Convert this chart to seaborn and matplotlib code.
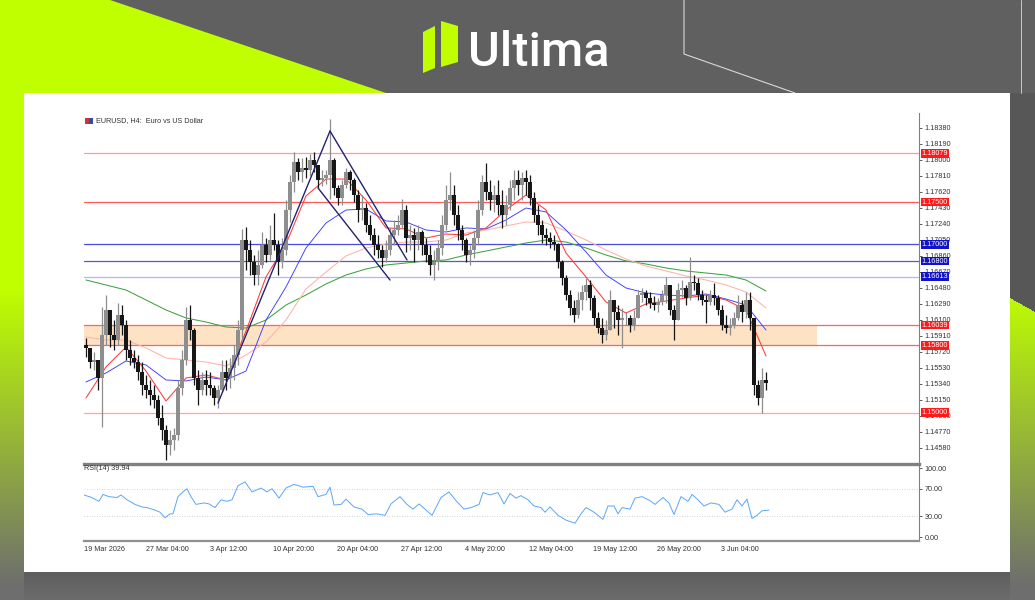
import numpy as np
import pandas as pd
import matplotlib
matplotlib.use("Agg")
import matplotlib.pyplot as plt
from matplotlib.patches import Polygon, Rectangle
from matplotlib.colors import to_rgb
import seaborn as sns

# ---------------- data (EURUSD) ----------------
first_open = 1.15803
closes = [
    1.15768, 1.15601, 1.15625, 1.15411, 1.15922, 1.16219, 1.15922, 1.15863, 1.16159, 1.16041,
    1.15744, 1.15649, 1.15601, 1.15483, 1.15328, 1.15269, 1.15209, 1.15150, 1.14936, 1.14794,
    1.14616, 1.14675, 1.14734, 1.15293, 1.15625, 1.16100, 1.15981, 1.15411, 1.15269, 1.15388,
    1.15328, 1.15293, 1.15174, 1.15269, 1.15483, 1.15411, 1.15530, 1.15684, 1.15981, 1.17050,
    1.16931, 1.16789, 1.16634, 1.16753, 1.16991, 1.16872, 1.17050, 1.16991, 1.16789, 1.16931,
    1.17406, 1.17739, 1.17976, 1.17858, 1.17905, 1.17881, 1.18000, 1.17941, 1.17763, 1.17786,
    1.17822, 1.18000, 1.17668, 1.17549, 1.17703, 1.17858, 1.17763, 1.17584, 1.17406, 1.17430,
    1.17228, 1.17109, 1.16991, 1.16931, 1.16836, 1.16931, 1.17109, 1.17169, 1.17228, 1.17406,
    1.17074, 1.17109, 1.17050, 1.17145, 1.16991, 1.16872, 1.16753, 1.16789, 1.16955, 1.17228,
    1.17525, 1.17584, 1.17347, 1.17169, 1.17050, 1.16872, 1.16931, 1.17074, 1.17406, 1.17739,
    1.17620, 1.17525, 1.17584, 1.17466, 1.17347, 1.17466, 1.17668, 1.17763, 1.17703, 1.17786,
    1.17739, 1.17549, 1.17347, 1.17228, 1.17109, 1.17074, 1.17026, 1.17003, 1.16789, 1.16599,
    1.16397, 1.16243, 1.16159, 1.16338, 1.16433, 1.16516, 1.16361, 1.16124, 1.16005, 1.15922,
    1.15981, 1.16338, 1.16195, 1.16100, 1.16124, 1.16124, 1.16041, 1.16124, 1.16397, 1.16421,
    1.16361, 1.16302, 1.16278, 1.16314, 1.16397, 1.16516, 1.16219, 1.16100, 1.16456, 1.16480,
    1.16361, 1.16551, 1.16539, 1.16397, 1.16338, 1.16314, 1.16397, 1.16361, 1.16219, 1.16041,
    1.16005, 1.16041, 1.16124, 1.16278, 1.16195, 1.16338, 1.16124, 1.15328, 1.15174, 1.15388, 1.15352,
]
highs = [
    1.15886, 1.15744, 1.15720, 1.15625, 1.16254, 1.16397, 1.16159, 1.16100, 1.16302, 1.16278,
    1.16100, 1.15863, 1.15744, 1.15684, 1.15601, 1.15447, 1.15388, 1.15328, 1.15209, 1.15091,
    1.14853, 1.14794, 1.14818, 1.15388, 1.15744, 1.16254, 1.16278, 1.16005, 1.15506, 1.15483,
    1.15506, 1.15483, 1.15328, 1.15328, 1.15625, 1.15625, 1.15649, 1.15803, 1.16100, 1.17181,
    1.17204, 1.17050, 1.16872, 1.16931, 1.17145, 1.17074, 1.17228, 1.17371, 1.17050, 1.17074,
    1.17525, 1.17822, 1.18095, 1.18024, 1.18024, 1.18036, 1.18071, 1.18095, 1.17941, 1.17881,
    1.17881, 1.18487, 1.18024, 1.17703, 1.17763, 1.17905, 1.17881, 1.17786, 1.17644, 1.17584,
    1.17489, 1.17347, 1.17193, 1.17109, 1.16991, 1.17050, 1.17193, 1.17288, 1.17347, 1.17537,
    1.17466, 1.17228, 1.17193, 1.17228, 1.17169, 1.17074, 1.16991, 1.16931, 1.17050, 1.17347,
    1.17703, 1.17858, 1.17703, 1.17466, 1.17228, 1.17074, 1.16991, 1.17169, 1.17525, 1.17822,
    1.17964, 1.17763, 1.17703, 1.17763, 1.17644, 1.17584, 1.17763, 1.17881, 1.17881, 1.17858,
    1.17881, 1.17822, 1.17620, 1.17466, 1.17288, 1.17193, 1.17145, 1.17109, 1.17014, 1.16813,
    1.16634, 1.16456, 1.16338, 1.16433, 1.16516, 1.16599, 1.16575, 1.16397, 1.16195, 1.16124,
    1.16100, 1.16456, 1.16338, 1.16278, 1.16243, 1.16195, 1.16159, 1.16219, 1.16456, 1.16480,
    1.16456, 1.16433, 1.16385, 1.16361, 1.16456, 1.16611, 1.16516, 1.16278, 1.16539, 1.16575,
    1.16516, 1.16848, 1.16634, 1.16599, 1.16456, 1.16397, 1.16456, 1.16539, 1.16397, 1.16278,
    1.16159, 1.16124, 1.16195, 1.16397, 1.16338, 1.16433, 1.16433, 1.16124, 1.15388, 1.15530, 1.15483,
]
lows = [
    1.15661, 1.15530, 1.15506, 1.15269, 1.14829, 1.15803, 1.15779, 1.15744, 1.15803, 1.15922,
    1.15625, 1.15566, 1.15530, 1.15388, 1.15209, 1.15174, 1.15091, 1.15055, 1.14853, 1.14675,
    1.14438, 1.14497, 1.14556, 1.14675, 1.15209, 1.15566, 1.15863, 1.15328, 1.15091, 1.15209,
    1.15209, 1.15209, 1.15091, 1.15055, 1.15245, 1.15269, 1.15293, 1.15388, 1.15566, 1.15863,
    1.16694, 1.16634, 1.16516, 1.16516, 1.16718, 1.16789, 1.16813, 1.16931, 1.16634, 1.16718,
    1.16872, 1.17264, 1.17620, 1.17763, 1.17739, 1.17786, 1.17810, 1.17858, 1.17668, 1.17691,
    1.17715, 1.17537, 1.17584, 1.17466, 1.17466, 1.17668, 1.17644, 1.17501, 1.17264, 1.17288,
    1.17145, 1.17050, 1.16872, 1.16836, 1.16729, 1.16789, 1.16872, 1.16991, 1.17109, 1.17193,
    1.16908, 1.16931, 1.16789, 1.16931, 1.16872, 1.16789, 1.16634, 1.16575, 1.16694, 1.16872,
    1.17169, 1.17406, 1.17228, 1.17050, 1.16931, 1.16789, 1.16753, 1.16836, 1.16991, 1.17347,
    1.17525, 1.17406, 1.17383, 1.17347, 1.17193, 1.17228, 1.17406, 1.17525, 1.17584, 1.17525,
    1.17584, 1.17466, 1.17264, 1.17109, 1.17014, 1.16991, 1.16955, 1.16931, 1.16718, 1.16516,
    1.16338, 1.16159, 1.16076, 1.16124, 1.16219, 1.16338, 1.16219, 1.16041, 1.15946, 1.15827,
    1.15863, 1.15981, 1.16005, 1.15922, 1.15768, 1.16041, 1.15958, 1.15981, 1.16159, 1.16314,
    1.16278, 1.16243, 1.16219, 1.16195, 1.16278, 1.16302, 1.16159, 1.15863, 1.16124, 1.16373,
    1.16278, 1.16338, 1.16456, 1.16338, 1.16278, 1.16064, 1.16278, 1.16278, 1.16159, 1.15981,
    1.15946, 1.15922, 1.16005, 1.16100, 1.16076, 1.16124, 1.15981, 1.15209, 1.15091, 1.14996, 1.15269,
]

# moving averages, sampled every 5 candles
ma_bar = list(range(0, 171, 5))
ma_red = [1.15174, 1.15542, 1.15779, 1.15494, 1.15138, 1.15411, 1.15447, 1.15388, 1.15969, 1.16611,
          1.17003, 1.17573, 1.17774, 1.17774, 1.17525, 1.17193, 1.17181, 1.17074, 1.17121, 1.17109,
          1.17193, 1.17406, 1.17584, 1.17406, 1.16896, 1.16611, 1.16314, 1.16183, 1.16290, 1.16326,
          1.16361, 1.16397, 1.16338, 1.16219, 1.15673]
ma_blue = [1.15364, 1.15471, 1.15613, 1.15566, 1.15388, 1.15376, 1.15423, 1.15388, 1.15494, 1.16100,
           1.16492, 1.16955, 1.17252, 1.17406, 1.17418, 1.17276, 1.17264, 1.17169, 1.17145, 1.17193,
           1.17181, 1.17288, 1.17430, 1.17383, 1.17169, 1.16908, 1.16634, 1.16480, 1.16421, 1.16397,
           1.16385, 1.16409, 1.16349, 1.16278, 1.15981]
ma_pink = [1.15898, 1.15863, 1.15863, 1.15768, 1.15649, 1.15625, 1.15601, 1.15554, 1.15684, 1.15839,
           1.16100, 1.16468, 1.16670, 1.16860, 1.16955, 1.17003, 1.17026, 1.17026, 1.17050, 1.17133,
           1.17169, 1.17216, 1.17264, 1.17252, 1.17157, 1.17050, 1.16931, 1.16824, 1.16741, 1.16682,
           1.16623, 1.16575, 1.16516, 1.16433, 1.16243]
ma_green = [1.16575, 1.16516, 1.16456, 1.16338, 1.16219, 1.16124, 1.16076, 1.16017, 1.16005, 1.16100,
            1.16278, 1.16397, 1.16528, 1.16634, 1.16706, 1.16753, 1.16777, 1.16801, 1.16813, 1.16872,
            1.16919, 1.16967, 1.17014, 1.17050, 1.17026, 1.16955, 1.16872, 1.16801, 1.16765, 1.16718,
            1.16682, 1.16658, 1.16634, 1.16575, 1.16444]

# RSI(14)
rsi_bar = [0, 1.75, 3.75, 4.75, 6.25, 8.25, 9.25, 10.75, 12.75, 14.5,
           15.75, 17.75, 19, 20.25, 21.5, 22.25, 23.5, 24.75, 25.75, 26.75,
           28, 30, 31.25, 32.75, 34.25, 35.75, 37, 38.5, 40.25, 42,
           44.25, 45.75, 47, 48.75, 50.5, 52.5, 54.75, 57.25, 58.5, 60.5,
           61.5, 62.5, 64.25, 65.5, 67.5, 69.5, 71, 73.25, 75.25, 76.75,
           79, 80.75, 82.25, 83.75, 85.25, 87, 89.25, 91.25, 93, 95,
           96.75, 98.75, 99.75, 101.5, 103.5, 105, 106.5, 108, 109.25, 111,
           112.5, 114.25, 115.25, 116.5, 118.5, 120.5, 122.75, 124.25, 125.5, 127.5,
           129.75, 131, 132.5, 133.5, 134.5, 136.5, 137.75, 139.5, 141.5, 142.75,
           144.75, 146.25, 147.5, 149.25, 151, 152, 153.5, 155, 156.75, 158.75,
           160.25, 162, 163.25, 164.5, 165.75, 167, 168.25, 169.5, 171.25]
rsi_vals = [61, 57.7, 51.8, 61.8, 58.6, 57.3, 61, 54, 47.3, 43.6,
            42.7, 39, 36, 28, 33.6, 33.6, 58.6, 65.5, 70, 58.6,
            47.3, 49.5, 48, 42.7, 54, 51.8, 54, 74.5, 80, 65.5,
            71, 65.5, 70, 56.4, 71, 76.4, 72.3, 73.6, 58.6, 61.8,
            72.3, 46.4, 47.3, 55, 43.6, 40.5, 32.7, 33.6, 31.4, 48,
            58.6, 47.3, 40.5, 48, 40.5, 31.4, 57.3, 65.5, 52.7, 40.5,
            42.7, 47.3, 64.5, 61, 64.5, 48, 63.2, 56.4, 60, 54,
            45, 42.7, 36, 43.6, 31.4, 24.5, 20, 33.6, 42.7, 36,
            25.5, 45, 45, 33.6, 42.7, 40.5, 56.4, 58.6, 52.7, 47.3,
            57.3, 49.5, 32.7, 58.6, 51.8, 61.8, 54, 45, 49.5, 47.3,
            36, 40.5, 54, 45, 55, 26.8, 31.4, 38, 39]

# horizontal levels and their colours
levels = [1.18079, 1.17500, 1.17000, 1.16800, 1.16613, 1.16039, 1.15800, 1.15000]
level_line_colors = ['#ff9a9a', '#ff5a5a', '#4a4ae0', '#5a5ac4', '#b4b8f0', '#ff6262', '#ff6262', '#ffa4a4']
level_box_colors = ['#ff1a1a', '#ff1a1a', '#1212c8', '#1212c8', '#1212c8', '#ff1a1a', '#ff1a1a', '#ff1a1a']

# supply/demand zone
zone_start, zone_end, zone_lo, zone_hi = 0, 183.25, 1.15800, 1.16039

# trend lines (bar, price) pairs
trend_bars = [(33.5, 61.5), (61.5, 80.75), (58.5, 76.5)]
trend_prices = [(1.15114, 1.18344), (1.18344, 1.16813), (1.17668, 1.16575)]

price_ticks = [1.18380, 1.18190, 1.18000, 1.17810, 1.17620, 1.17430, 1.17240, 1.17050,
               1.16860, 1.16670, 1.16480, 1.16290, 1.16100, 1.15910, 1.15720, 1.15530,
               1.15340, 1.15150, 1.14960, 1.14770, 1.14580]
rsi_ticks = [0, 30, 70, 100]
date_bars = [0, 15.5, 31.5, 47.25, 63.25, 79.25, 95.25, 111.25, 127.25, 143.25, 159.25]
date_labels = ['19 Mar 2026', '27 Mar 04:00', '3 Apr 12:00', '10 Apr 20:00', '20 Apr 04:00',
               '27 Apr 12:00', '4 May 20:00', '12 May 04:00', '19 May 12:00', '26 May 20:00',
               '3 Jun 04:00']

# ---------------- styling ----------------
sns.set_style("white")
plt.rcParams['font.family'] = ['Liberation Sans', 'DejaVu Sans']

W, H = 1035, 600
fx = lambda x: x / W
fy = lambda y: 1 - y / H

LIME = '#bfff00'
fig = plt.figure(figsize=(10.35, 6.0), dpi=100)

# ---------------- branded frame ----------------
bg = fig.add_axes([0, 0, 1, 1])
bg.set_xlim(0, W)
bg.set_ylim(H, 0)
bg.axis('off')
bg.add_patch(Rectangle((0, 0), W, H, fc='#606060', ec='none', zorder=0))

lime_rgb = np.array(to_rgb(LIME))
grey_rgb = np.array(to_rgb('#6e6e6e'))
ys = np.arange(93, 600) + 0.5
t = np.clip((ys - 290) / (585 - 290), 0, 1)[:, None]
col = lime_rgb * (1 - t) + grey_rgb * t
left_img = np.repeat(col[:, None, :], 24, axis=1)
bg.imshow(left_img, extent=(0, 24, 600, 93), aspect='auto', interpolation='bilinear', zorder=1)

xs = np.arange(1010, 1035) + 0.5
right_img = np.repeat(col[:, None, :], len(xs), axis=1).copy()
boundary = 298 + (xs - 1010) * 0.56
dark = np.array(to_rgb('#575757'))
mask = ys[:, None] < boundary[None, :]
right_img[mask] = dark
bg.imshow(right_img, extent=(1010, 1035, 600, 93), aspect='auto', interpolation='nearest', zorder=1)

bot_t = np.linspace(0, 1, 28)[:, None]
bot_col = np.array(to_rgb('#5e5e5e')) * (1 - bot_t) + np.array(to_rgb('#6c6c6c')) * bot_t
bg.imshow(np.repeat(bot_col[:, None, :], 10, axis=1), extent=(24, 1010, 600, 572),
          aspect='auto', zorder=1)

bg.add_patch(Polygon([(0, 0), (110, 0), (386, 93), (0, 93)], closed=True, fc=LIME, ec='none', zorder=2))
bg.plot([684, 684, 795], [0, 54, 93], color='#d8d8d8', lw=0.8, zorder=2)
bg.plot([1021, 1021], [0, 93], color='#c8c8c8', lw=0.7, zorder=2)
bg.add_patch(Rectangle((24, 93), 986, 479, fc='white', ec='none', zorder=3))

# logo
bg.add_patch(Polygon([(423, 32), (435, 26), (435, 68), (423, 73)], closed=True, fc=LIME, ec='none', zorder=3))
bg.add_patch(Polygon([(441, 21), (458, 26), (458, 62), (441, 67)], closed=True, fc=LIME, ec='none', zorder=3))
fig.text(fx(468), fy(65.5), 'Ultima', fontsize=35, color='white', family=['Roboto', 'DejaVu Sans'],
         fontweight='medium', ha='left', va='baseline')

# ---------------- price chart ----------------
ax = fig.add_axes([fx(84), fy(464), (919 - 84) / W, (464 - 113) / H])
ax.set_facecolor('none')
x_max = (919 - 84) / 4
ax.set_xlim(0, x_max)
ax.set_ylim(1.14390, 1.18558)

df = pd.DataFrame({'close': closes, 'high': highs, 'low': lows})
df['open'] = [first_open] + closes[:-1]
df['bar'] = np.arange(len(df)) + 0.5
df['high'] = df[['high', 'open', 'close']].max(axis=1)
df['low'] = df[['low', 'open', 'close']].min(axis=1)
up = df['close'] >= df['open']
ccol = np.where(up, '#8e8e8e', '#161616')

ax.fill_between([zone_start, zone_end], zone_lo, zone_hi, color='#fde2c4', lw=0, zorder=1)
for lv, lc in zip(levels, level_line_colors):
    ax.axhline(lv, color=lc, lw=0.9, zorder=2)

ma_x = np.array(ma_bar) + 0.5
for vals, c, lw in [(ma_green, '#3fa33f', 0.75), (ma_pink, '#ffb2a8', 0.75),
                    (ma_blue, '#3a3aff', 0.65), (ma_red, '#ff3a3a', 0.75)]:
    sns.lineplot(x=ma_x, y=vals, ax=ax, color=c, linewidth=lw, zorder=3)

ax.vlines(df['bar'], df['low'], df['high'], colors=ccol, linewidth=0.9, zorder=4)
body = (df['close'] - df['open']).abs().clip(lower=0.00005)
ax.bar(df['bar'], body, bottom=df[['open', 'close']].min(axis=1), width=0.78,
       color=ccol, linewidth=0, zorder=5)

for bx, py in zip(trend_bars, trend_prices):
    ax.plot(bx, py, color='#23236f', lw=1.0, zorder=6)

for lv, bc in zip(levels, level_box_colors):
    ax.text(1.003, lv, f"{lv:.5f}", transform=ax.get_yaxis_transform(), ha='left', va='center',
            fontsize=5.2, color='white', clip_on=False, zorder=10,
            bbox=dict(boxstyle='square,pad=0.12', fc=bc, ec='none'))

ax.yaxis.tick_right()
ax.set_yticks(price_ticks)
ax.set_yticklabels([f"{p:.5f}" for p in price_ticks])
ax.tick_params(axis='y', labelsize=5.2, length=2.5, width=0.6, pad=1.5, colors='#444444',
               labelcolor='#333333')
ax.set_xticks([])
for s in ['top', 'left']:
    ax.spines[s].set_visible(False)
ax.spines['right'].set_color('#808080')
ax.spines['right'].set_linewidth(0.8)
ax.spines['bottom'].set_color('#808080')
ax.spines['bottom'].set_linewidth(2.4)
ax.set_xlabel('')
ax.set_ylabel('')

fig.add_artist(Rectangle((fx(85), fy(124)), 4 / W, 6 / H, transform=fig.transFigure,
                         fc='#c83838', ec='none'))
fig.add_artist(Rectangle((fx(89), fy(124)), 4 / W, 6 / H, transform=fig.transFigure,
                         fc='#3050a8', ec='none'))
fig.text(fx(96), fy(120.5), 'EURUSD, H4:  Euro vs US Dollar', fontsize=5.2, color='#333333',
         ha='left', va='center')

# ---------------- RSI panel ----------------
ar = fig.add_axes([fx(84), fy(541), (919 - 84) / W, (541 - 465) / H])
ar.set_facecolor('none')
ar.set_xlim(0, x_max)
ar.set_ylim(-5.8, 104.5)
for lv in [70, 30]:
    ar.axhline(lv, color='#c4c4c4', lw=0.6, ls=(0, (1, 2)), zorder=1)
sns.lineplot(x=rsi_bar, y=rsi_vals, ax=ar, color='#5aa6fa', linewidth=0.7, zorder=3)
ar.yaxis.tick_right()
ar.set_yticks(rsi_ticks)
ar.set_yticklabels([f"{v:.2f}" for v in rsi_ticks])
ar.tick_params(axis='y', labelsize=5.2, length=2.5, width=0.6, pad=1.5, colors='#444444',
               labelcolor='#333333')
ar.set_xticks(date_bars)
ar.set_xticklabels(date_labels)
ar.tick_params(axis='x', labelsize=5.2, length=2, width=0.6, pad=1.5, colors='#444444',
               labelcolor='#333333')
for lbl in ar.get_xticklabels():
    lbl.set_ha('left')
for s in ['top', 'left']:
    ar.spines[s].set_visible(False)
ar.spines['right'].set_color('#808080')
ar.spines['right'].set_linewidth(0.8)
ar.spines['bottom'].set_color('#909090')
ar.spines['bottom'].set_linewidth(1.6)
ar.set_xlabel('')
ar.set_ylabel('')
ar.text(0.0, 1.0, 'RSI(14) 39.94', transform=ar.transAxes, fontsize=5.2, color='#333333',
        ha='left', va='top')

fig.savefig('out.png', dpi=100)
